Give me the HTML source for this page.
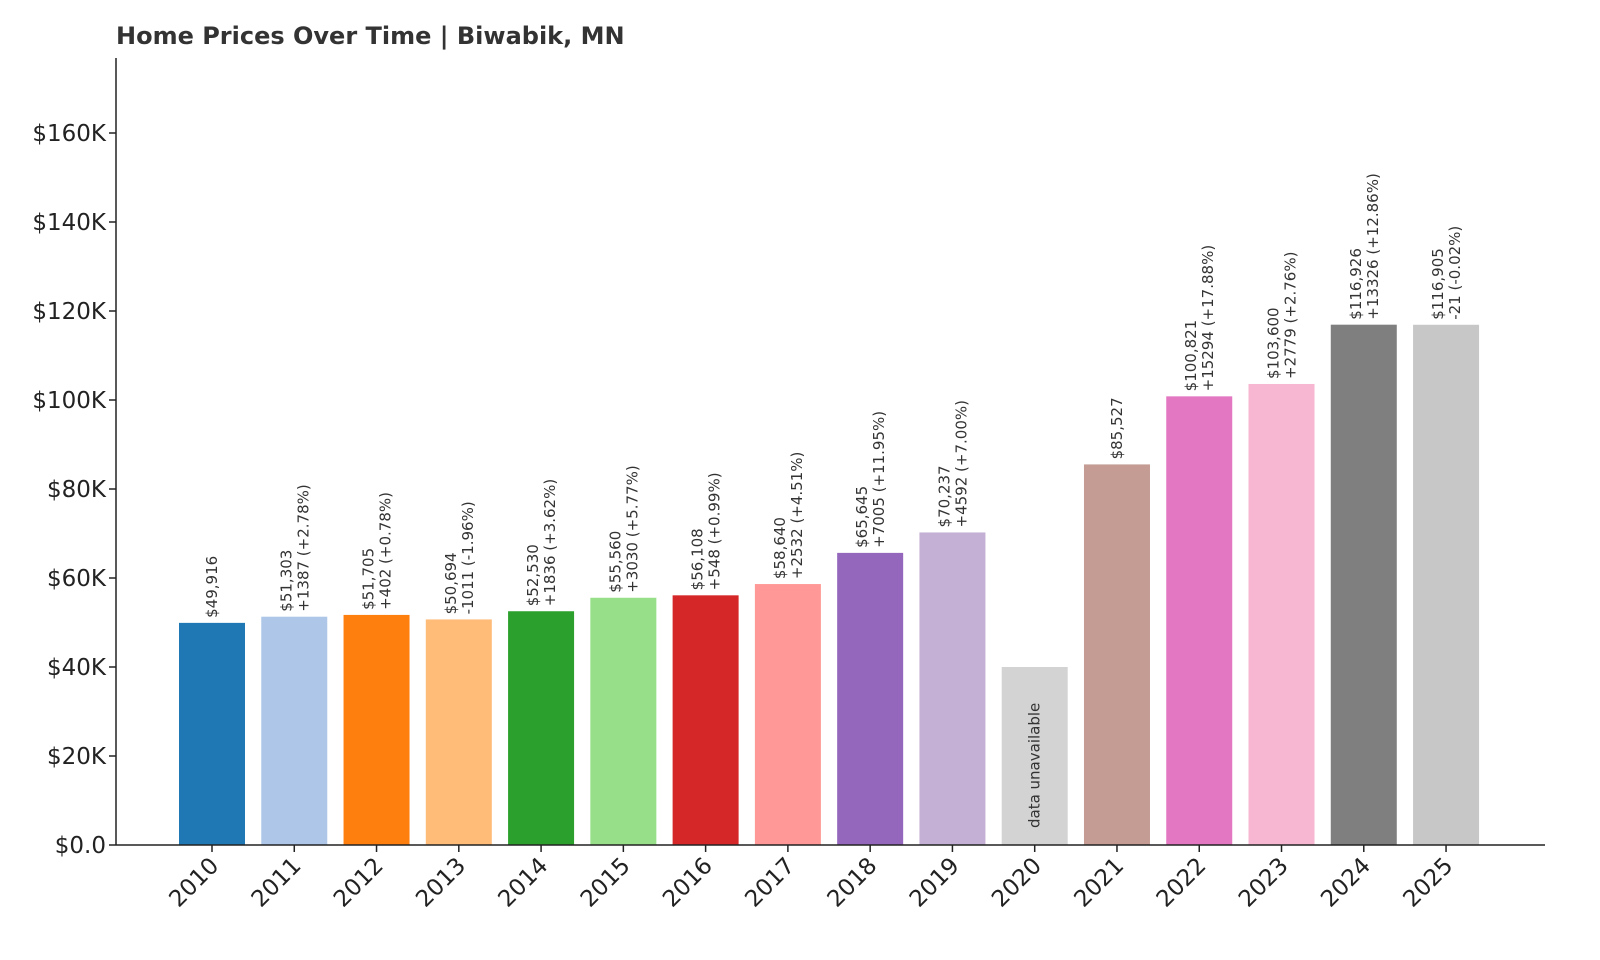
<!DOCTYPE html>
<html><head><meta charset="utf-8"><style>
body{margin:0;background:#fff}
svg{display:block;font-family:"DejaVu Sans","Liberation Sans",sans-serif}
</style></head><body>
<svg id="chart" width="1600" height="960" viewBox="0 0 1600 960">
<text x="116" y="44" font-size="24" font-weight="bold" fill="#333">Home Prices Over Time | Biwabik, MN</text>
<g id="plot"></g>
</svg>
<script>
const years=["2010","2011","2012","2013","2014","2015","2016","2017","2018","2019","2020","2021","2022","2023","2024","2025"];
const values=[49916,51303,51705,50694,52530,55560,56108,58640,65645,70237,null,85527,100821,103600,116926,116905];
const priceLabels=["$49,916","$51,303","$51,705","$50,694","$52,530","$55,560","$56,108","$58,640","$65,645","$70,237","","$85,527","$100,821","$103,600","$116,926","$116,905"];
const changeLabels=["","+1387 (+2.78%)","+402 (+0.78%)","-1011 (-1.96%)","+1836 (+3.62%)","+3030 (+5.77%)","+548 (+0.99%)","+2532 (+4.51%)","+7005 (+11.95%)","+4592 (+7.00%)","","","+15294 (+17.88%)","+2779 (+2.76%)","+13326 (+12.86%)","-21 (-0.02%)"];
const colors=["#1f77b4","#aec7e8","#ff7f0e","#ffbb78","#2ca02c","#98df8a","#d62728","#ff9896","#9467bd","#c5b0d5","#d3d3d3","#c49c94","#e377c2","#f7b6d2","#7f7f7f","#c7c7c7"];
const yTicks=[0,20000,40000,60000,80000,100000,120000,140000,160000];
const yTickLabels=["$0.0","$20K","$40K","$60K","$80K","$100K","$120K","$140K","$160K"];
const placeholder=40000;

const NS="http://www.w3.org/2000/svg";
const g=document.getElementById("plot");
const x0=116,x1=1545,yBase=845,yTop=58;
const y=v=>yBase-v*(712/160000);
const xc=i=>212+i*82.27;
const bw=66;
function el(t,a){const e=document.createElementNS(NS,t);for(const k in a)e.setAttribute(k,a[k]);g.appendChild(e);return e;}

yTicks.forEach((t,i)=>{
  const l=el("line",{x1:x0-7,x2:x0,y1:y(t),y2:y(t),stroke:"#222","stroke-width":1.5});
  
  
  const tx=el("text",{x:x0-10,y:y(t)+8,"text-anchor":"end","font-size":23,fill:"#222"});
  tx.textContent=yTickLabels[i];
  
  
});

years.forEach((yr,i)=>{
  const v=values[i]===null?placeholder:values[i];
  const r=el("rect",{x:xc(i)-bw/2,y:y(v),width:bw,height:yBase-y(v),fill:colors[i]});
  
  
  const tk=el("line",{x1:xc(i),x2:xc(i),y1:yBase,y2:yBase+7,stroke:"#222","stroke-width":1.5});
  
  
  const lx=xc(i)+8,ly=yBase+22;
  const xl=el("text",{x:lx,y:ly,"text-anchor":"end","font-size":23,fill:"#222",transform:`rotate(-45 ${lx} ${ly})`});
  xl.textContent=yr;
  
  
  if(values[i]===null){
    const tx=xc(i)+5,ty=yBase-17;
    const t=el("text",{x:tx,y:ty,"font-size":15,fill:"#333",transform:`rotate(-90 ${tx} ${ty})`});
    t.textContent="data unavailable";
    
    
  } else {
    const by=y(v)-5;
    const two=changeLabels[i]!=="";
    const ax=two?xc(i)-3:xc(i)+5;
    const t=el("text",{x:ax,y:by,"font-size":15,fill:"#333",transform:`rotate(-90 ${ax} ${by})`});
    t.textContent=priceLabels[i];
    
    
    if(two){
      const bx=xc(i)+14;
      const t2=el("text",{x:bx,y:by,"font-size":15,fill:"#333",transform:`rotate(-90 ${bx} ${by})`});
      t2.textContent=changeLabels[i];
      
      
    }
  }
});
const ya=el("line",{x1:x0,x2:x0,y1:yTop,y2:yBase,stroke:"#222","stroke-width":1.5});


const xa=el("line",{x1:x0,x2:x1,y1:yBase,y2:yBase,stroke:"#222","stroke-width":1.5});


</script>
</body></html>
